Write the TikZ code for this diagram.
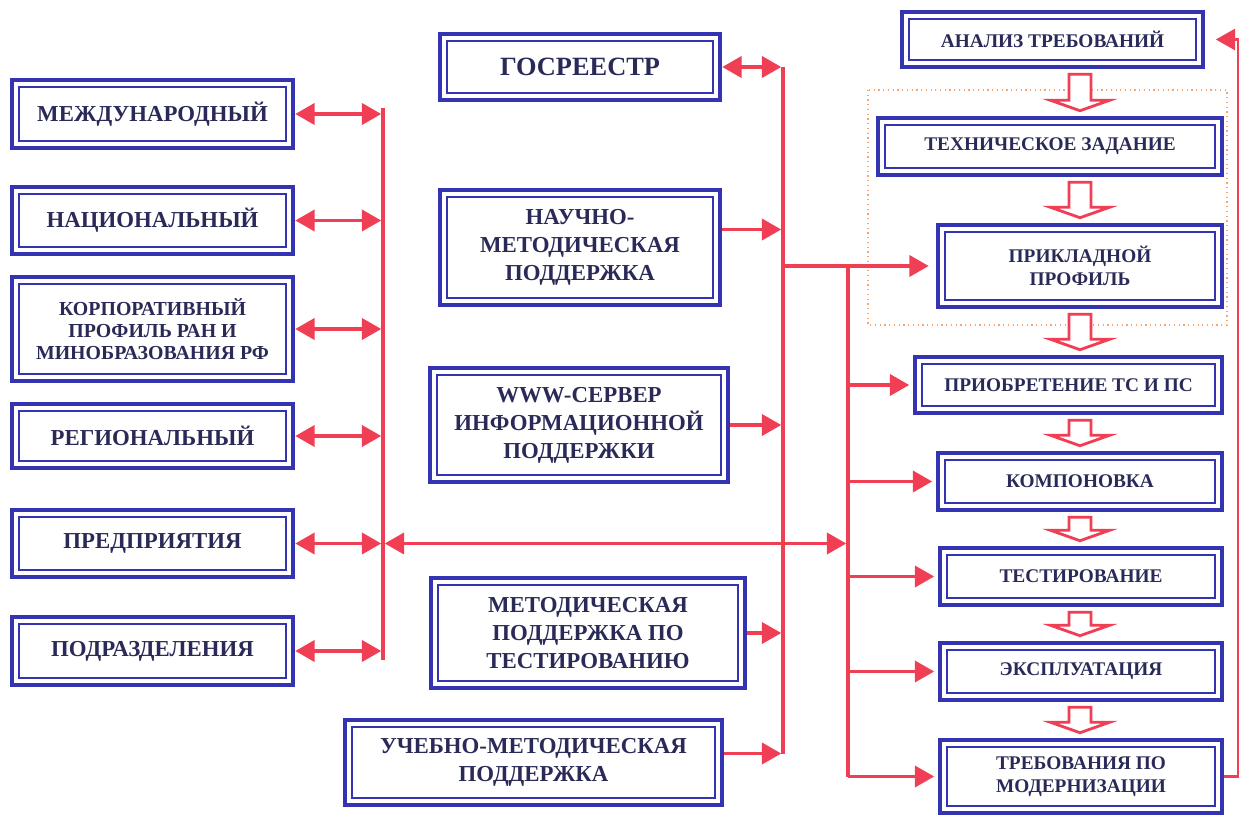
\documentclass[tikz,border=0pt]{standalone}
\usepackage{fontspec}
\setmainfont{Liberation Serif}
\usetikzlibrary{arrows.meta,calc}
\definecolor{boxblue}{RGB}{52,52,178}
\definecolor{inkblue}{RGB}{42,42,88}
\definecolor{linkred}{RGB}{240,62,84}
\definecolor{frameorange}{RGB}{245,165,115}

% hollow block arrow running down the right-hand column, from box #1 to box #2
\newcommand\hollowarrow[2]{%
  \draw[hollow] let \p1=($(sp |- #1.south)+(0,5)$), \p2=($(sp |- #2.north)+(0,-5)$) in
    (\x1-6.3pt,\y1) -- (\x1+6.3pt,\y1) -- (\x1+6.3pt,\y2+6pt) -- (\x1+17pt,\y2+6pt)
    -- (\x1,\y2) -- (\x1-17pt,\y2+6pt) -- (\x1-6.3pt,\y2+6pt) -- cycle;}

\begin{document}
\begin{tikzpicture}[x=0.02cm,y=-0.02cm,
  span/.style n args={4}{minimum width={(#3-#1)*0.02cm}, minimum height={(#4-#2)*0.02cm},
    at={({(#1+#3)/2},{(#2+#4)/2})}},
  bx/.style={draw=boxblue, line width=2.6pt, fill=white, inner sep=0pt, align=center,
    text=inkblue, font=\bfseries,
    path picture={\draw[boxblue, line width=1pt]
      ([shift={(4pt,4pt)}]path picture bounding box.south west) rectangle
      ([shift={(-4pt,-4pt)}]path picture bounding box.north east);}},
  fl/.style={font=\fontsize{13}{15}\selectfont\bfseries},
  fm/.style={font=\fontsize{13}{16}\selectfont\bfseries},
  fr/.style={font=\fontsize{11}{13}\selectfont\bfseries},
  tip/.style={Triangle[length=11pt,width=12pt]},
  bus/.style={draw=linkred, line width=2pt},
  dbl/.style={draw=linkred, line width=2pt, {Triangle[length=11pt,width=12pt]}-{Triangle[length=11pt,width=12pt]}},
  sgl/.style={draw=linkred, line width=2pt, -{Triangle[length=11pt,width=12pt]}},
  hollow/.style={draw=linkred, line width=1.6pt, fill=white, line join=miter},
  dotframe/.style={draw=frameorange, dotted, line width=0.7pt}]

\fill[white] (0,0) rectangle (1244,817);
\useasboundingbox (0,0) rectangle (1244,817);

% bus lines and column references
\coordinate (lb) at (383,0);
\coordinate (mb) at (783,0);
\coordinate (rb) at (848,0);
\coordinate (fb) at (1238,0);
\coordinate (sp) at (1080,0);

% dotted frame round the profile stage
\draw[dotframe] (868,90) rectangle (1227,325);

% left column
\node[bx, fl, span={12}{80}{293}{148}] (mezh) {МЕЖДУНАРОДНЫЙ};
\node[bx, fl, span={12}{187}{293}{254}] (nats) {НАЦИОНАЛЬНЫЙ};
\node[bx, font=\fontsize{11.3}{12.5}\selectfont\bfseries, span={12}{277}{293}{381}] (korp)
  {КОРПОРАТИВНЫЙ\\ПРОФИЛЬ РАН И\\МИНОБРАЗОВАНИЯ РФ};
\node[bx, fl, span={12}{404}{293}{468}] (reg) {РЕГИОНАЛЬНЫЙ};
\node[bx, fl, span={12}{510}{293}{577}] (pred) {ПРЕДПРИЯТИЯ};
\node[bx, fl, span={12}{617}{293}{685}] (podr) {ПОДРАЗДЕЛЕНИЯ};

% middle column
\node[bx, font=\fontsize{15}{17}\selectfont\bfseries, span={440}{34}{720}{100}] (gos) {ГОСРЕЕСТР};
\node[bx, fm, span={440}{190}{720}{305}] (nauch) {НАУЧНО-\\МЕТОДИЧЕСКАЯ\\ПОДДЕРЖКА};
\node[bx, fm, span={430}{368}{728}{482}] (www) {WWW-СЕРВЕР\\ИНФОРМАЦИОННОЙ\\ПОДДЕРЖКИ};
\node[bx, fm, span={431}{578}{745}{688}] (metod) {МЕТОДИЧЕСКАЯ\\ПОДДЕРЖКА ПО\\ТЕСТИРОВАНИЮ};
\node[bx, fm, span={345}{720}{722}{805}] (ucheb) {УЧЕБНО-МЕТОДИЧЕСКАЯ\\ПОДДЕРЖКА};

% right column
\node[bx, fr, span={902}{12}{1203}{67}] (analiz) {АНАЛИЗ ТРЕБОВАНИЙ};
\node[bx, fr, span={878}{118}{1222}{175}] (tz) {ТЕХНИЧЕСКОЕ ЗАДАНИЕ};
\node[bx, fr, span={938}{225}{1222}{307}] (prikl) {ПРИКЛАДНОЙ\\ПРОФИЛЬ};
\node[bx, fr, span={915}{357}{1222}{413}] (priobr) {ПРИОБРЕТЕНИЕ ТС И ПС};
\node[bx, fr, span={938}{453}{1222}{510}] (komp) {КОМПОНОВКА};
\node[bx, fr, span={940}{548}{1222}{605}] (test) {ТЕСТИРОВАНИЕ};
\node[bx, fr, span={940}{643}{1222}{700}] (expl) {ЭКСПЛУАТАЦИЯ};
\node[bx, fr, span={940}{740}{1222}{813}] (treb) {ТРЕБОВАНИЯ ПО\\МОДЕРНИЗАЦИИ};

% arrow start points that sit off the box centres
\coordinate (nauarr) at ($(nauch.east)+(0,-18)$);
\coordinate (ucharr) at ($(ucheb.east)+(0,-9)$);

% left bus with its two-way links
\draw[bus] ($(mezh.east -| lb)+(0,-6)$) -- ($(podr.east -| lb)+(0,9)$);
\foreach \n in {mezh,nats,korp,reg,pred,podr}
  \draw[dbl, shorten >=1pt] (\n.east) -- (\n.east -| lb);
\draw[dbl, shorten <=1pt, shorten >=1pt] (pred.east -| lb) -- (pred.east -| rb);

% middle bus
\draw[bus] (gos.east -| mb) -- (ucharr -| mb);
\draw[dbl, shorten >=1pt] (gos.east) -- (gos.east -| mb);
\draw[sgl, shorten >=1pt] (nauarr) -- (nauarr -| mb);
\draw[sgl, shorten >=1pt] (www.east) -- (www.east -| mb);
\draw[sgl, shorten >=1pt] (metod.east) -- (metod.east -| mb);
\draw[sgl, shorten >=1pt] (ucharr) -- (ucharr -| mb);

% feed into the profile and the right bus
\draw[sgl, shorten >=4pt] (prikl.west -| mb) -- (prikl.west);
\draw[bus] (prikl.west -| rb) -- (treb.west -| rb);
\foreach \n in {priobr,komp,test,expl,treb}
  \draw[sgl, shorten >=2pt] (\n.west -| rb) -- (\n.west);

% feedback loop
\draw[sgl, line width=1.6pt, shorten >=6pt] (treb.east) -- (treb.east -| fb) |- (analiz.east);

% stage sequence
\hollowarrow{analiz}{tz}
\hollowarrow{tz}{prikl}
\hollowarrow{prikl}{priobr}
\hollowarrow{priobr}{komp}
\hollowarrow{komp}{test}
\hollowarrow{test}{expl}
\hollowarrow{expl}{treb}
\end{tikzpicture}
\end{document}
